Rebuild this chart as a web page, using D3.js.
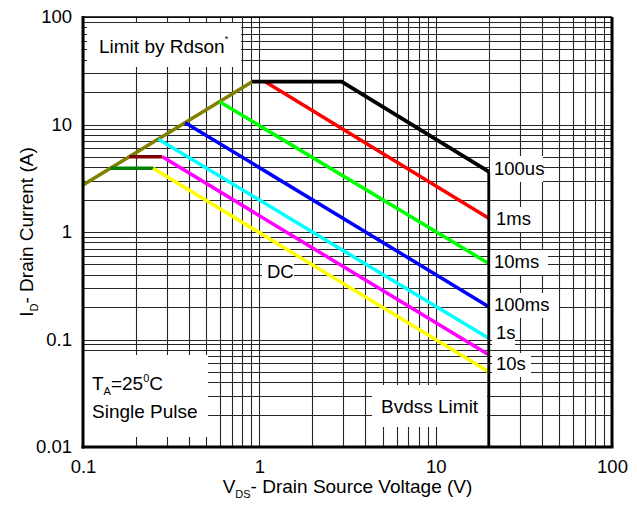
<!DOCTYPE html>
<html>
<head>
<meta charset="utf-8">
<script src="https://d3js.org/d3.v7.min.js"></script>
<style>
  body { margin: 0; background: #fff; }
  svg { font-family: "Liberation Sans", Arial, sans-serif; }
</style>
</head>
<body>
<div id="soa"></div>
<script>
// axis ticks
var xTicks = [0.1, 1, 10, 100];
var xTickLabels = ["0.1", "1", "10", "100"];
var yTicks = [0.01, 0.1, 1, 10, 100];
var yTickLabels = ["0.01", "0.1", "1", "10", "100"];

// [Vds (V), Id (A)]
var limitRdson = [[0.1, 2.74], [0.91, 25]];
var pulse100us = [[0.91, 25], [2.93, 25], [20, 3.64]];
var bvdss = [[20, 3.64], [20, 0.01]];
var pulse1ms = [[1.08, 25], [20, 1.34]];
var pulse10ms = [[0.595, 16.3], [20, 0.51]];
var pulse100ms = [[0.38, 10.4], [20, 0.202]];
var pulse1s = [[0.268, 7.3], [20, 0.1025]];
var hold10s = [[0.183, 5.0], [0.282, 5.0]];
var pulse10s = [[0.282, 5.0], [20, 0.072]];
var holdDC = [[0.143, 3.92], [0.25, 3.92]];
var lineDC = [[0.25, 3.92], [20, 0.05]];

var margin = {top: 17, right: 25, bottom: 59, left: 83},
    width = 637 - margin.left - margin.right,
    height = 506 - margin.top - margin.bottom;

var svg = d3.select("#soa")
    .append("svg")
        .attr("width", width + margin.left + margin.right)
        .attr("height", height + margin.top + margin.bottom)
    .append("g")
        .attr("transform", "translate(" + margin.left + "," + margin.top + ")");

var x = d3.scaleLog()
    .domain([0.1, 100])
    .range([0, width]);

var y = d3.scaleLog()
    .domain([0.01, 100])
    .range([height, 0]);

// grid
svg.append("g")
    .selectAll("line")
    .data(x.ticks())
    .enter()
    .append("line")
        .attr("x1", function(d) { return Math.round(x(d)) + 0.5 })
        .attr("x2", function(d) { return Math.round(x(d)) + 0.5 })
        .attr("y1", 0)
        .attr("y2", height)
        .attr("stroke", "#262626")
        .attr("stroke-width", 1.1);

svg.append("g")
    .selectAll("line")
    .data(y.ticks())
    .enter()
    .append("line")
        .attr("y1", function(d) { return Math.round(y(d)) + 0.5 })
        .attr("y2", function(d) { return Math.round(y(d)) + 0.5 })
        .attr("x1", 0)
        .attr("x2", width)
        .attr("stroke", "#262626")
        .attr("stroke-width", 1.1);

// white label boxes (page coords)
function box(x0, y0, x1, y1) {
    svg.append("rect")
        .attr("x", x0 - margin.left)
        .attr("y", y0 - margin.top)
        .attr("width", x1 - x0)
        .attr("height", y1 - y0)
        .attr("fill", "#fff");
}
box(87, 23, 241, 67);
box(83, 355, 208, 437);
box(372, 385, 487, 427);
box(262, 259, 294, 284);
box(490, 156, 543, 182);
box(492, 207, 533, 232);
box(490, 250, 548, 275);
box(490, 293, 559, 318);
box(492, 323, 515, 345);
box(492, 353, 531, 377);

// curves
var line = d3.line()
    .x(function(d) { return x(d[0]) })
    .y(function(d) { return y(d[1]) });

var curves = [
    {data: limitRdson, color: "#808000", w: 3.5},
    {data: pulse1ms, color: "#ff0000", w: 3.5},
    {data: pulse10ms, color: "#00ff00", w: 3.5},
    {data: pulse100ms, color: "#0000ff", w: 3.5},
    {data: pulse1s, color: "#00ffff", w: 3.5},
    {data: hold10s, color: "#800000", w: 3.5},
    {data: pulse10s, color: "#ff00ff", w: 3.5},
    {data: holdDC, color: "#008000", w: 3.5},
    {data: lineDC, color: "#ffff00", w: 3.5},
    {data: bvdss, color: "#000000", w: 2.8},
    {data: pulse100us, color: "#000000", w: 3.8}
];

svg.append("g")
    .selectAll("path")
    .data(curves)
    .enter()
    .append("path")
        .attr("fill", "none")
        .attr("stroke", function(d) { return d.color })
        .attr("stroke-width", function(d) { return d.w })
        .attr("stroke-linejoin", "miter")
        .attr("d", function(d) { return line(d.data) });

// frame
svg.append("line").attr("x1", 0).attr("x2", width).attr("y1", 0).attr("y2", 0)
    .attr("stroke", "#000").attr("stroke-width", 1.5);
svg.append("line").attr("x1", width).attr("x2", width).attr("y1", 0).attr("y2", height)
    .attr("stroke", "#000").attr("stroke-width", 3);
svg.append("line").attr("x1", 0).attr("x2", 0).attr("y1", -1).attr("y2", height + 1.5)
    .attr("stroke", "#000").attr("stroke-width", 3);
svg.append("line").attr("x1", -1.5).attr("x2", width + 1.5).attr("y1", height).attr("y2", height)
    .attr("stroke", "#000").attr("stroke-width", 3);

// axes
var xAxis = svg.append("g")
    .attr("transform", "translate(0," + height + ")")
    .call(d3.axisBottom(x)
        .tickValues(xTicks)
        .tickFormat(function(d, i) { return xTickLabels[i] })
        .tickSize(0)
        .tickPadding(13));
var yAxis = svg.append("g")
    .call(d3.axisLeft(y)
        .tickValues(yTicks)
        .tickFormat(function(d, i) { return yTickLabels[i] })
        .tickSize(0)
        .tickPadding(11));
[xAxis, yAxis].forEach(function(a) {
    a.select(".domain").remove();
    a.selectAll("text")
        .attr("font-family", "'Liberation Sans', Arial, sans-serif")
        .attr("font-size", 18.5)
        .attr("fill", "#000");
});

// axis titles
var xt = svg.append("text")
    .attr("x", width / 2)
    .attr("y", 493 - margin.top)
    .attr("text-anchor", "middle")
    .attr("font-size", 19);
xt.append("tspan").text("V");
xt.append("tspan").attr("font-size", 11).attr("dy", 5).text("DS");
xt.append("tspan").attr("dy", -5).text("- Drain Source Voltage (V)");

var yt = svg.append("text")
    .attr("transform", "translate(" + (33 - margin.left) + "," + (height / 2) + ") rotate(-90)")
    .attr("text-anchor", "middle")
    .attr("font-size", 19);
yt.append("tspan").text("I");
yt.append("tspan").attr("font-size", 11).attr("dy", 5).text("D");
yt.append("tspan").attr("dy", -5).text("- Drain Current (A)");

// annotations (page coords)
function label(t, px, py, size) {
    return svg.append("text")
        .attr("x", px - margin.left)
        .attr("y", py - margin.top)
        .attr("font-size", size || 18.5)
        .text(t);
}
var lr = label("Limit by Rdson", 99, 53, 19);
lr.append("tspan").attr("font-size", 9).attr("dy", -11).text("*");

var ta = label("T", 92, 390, 19);
ta.append("tspan").attr("font-size", 11).attr("dy", 5).text("A");
ta.append("tspan").attr("dy", -5).text("=25");
ta.append("tspan").attr("font-size", 11).attr("dy", -8).text("0");
ta.append("tspan").attr("dy", 8).text("C");
label("Single Pulse", 92, 418, 19);

label("Bvdss Limit", 381, 413, 19);
label("DC", 267, 278);
label("100us", 494, 175);
label("1ms", 496, 225);
label("10ms", 494, 268);
label("100ms", 494, 311);
label("1s", 496, 339);
label("10s", 496, 370);
</script>
</body>
</html>
